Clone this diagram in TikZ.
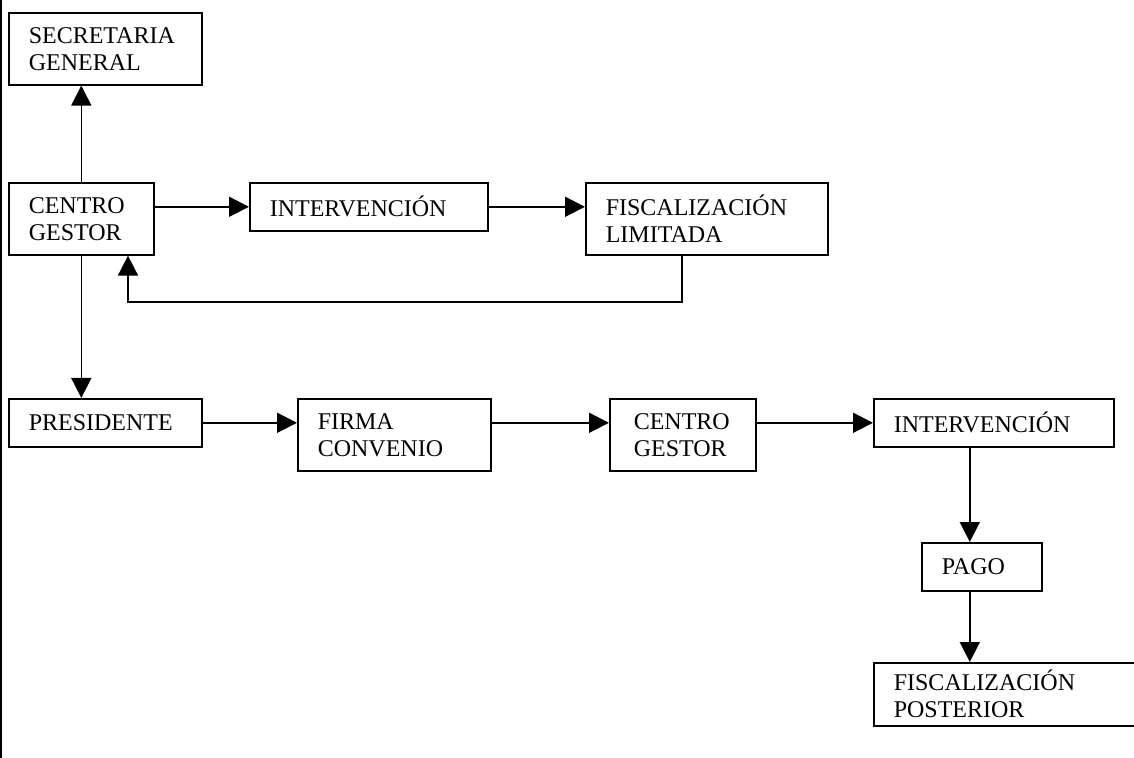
\documentclass[tikz,border=0pt]{standalone}
\usepackage{fontspec}
\setmainfont{Liberation Serif}
\usetikzlibrary{arrows.meta}

\tikzset{
	box/.style={draw, line width=0.8pt, anchor=north west, align=left, inner xsep=10pt, inner ysep=0pt, font=\fontsize{12}{13.5}\selectfont},
	arr/.style={line width=0.8pt, -{Triangle[length=10pt, width=10pt]}}
}

\begin{document}
\begin{tikzpicture}[x=1pt, y=-1pt]
		%page size
		\useasboundingbox (0,0) rectangle (567,379);
		\draw [line width=0.9pt] (0.5,0) -- (0.5,379);
		
		%upper row
		\node [box, text width=76.5pt, minimum height=36pt] (secretaria) at (4,6) {SECRETARIA\\GENERAL};
		\node [box, text width=52.5pt, minimum height=36pt] (gestor) at (4,91) {CENTRO\\GESTOR};
		\node [box, text width=99pt, minimum height=24pt] (intervencion) at (124.5,91) {INTERVENCIÓN};
		\node [box, text width=101pt, minimum height=36pt] (limitada) at (292.5,91) {FISCALIZACIÓN\\LIMITADA};
		
		%lower row
		\node [box, text width=76.5pt, minimum height=24pt] (presidente) at (4,199) {PRESIDENTE};
		\node [box, text width=76.5pt, minimum height=36pt] (convenio) at (148.5,199) {FIRMA\\CONVENIO};
		\node [box, text width=49pt, minimum height=36pt, inner xsep=12pt] (gestor2) at (304.5,199) {CENTRO\\GESTOR};
		\node [box, text width=100pt, minimum height=24pt] (intervencion2) at (436.5,199) {INTERVENCIÓN};
		\node [box, text width=40pt, minimum height=24pt] (pago) at (460.5,271) {PAGO};
		\node [box, text width=120pt, minimum height=31.5pt] (posterior) at (436.5,331) {FISCALIZACIÓN\\POSTERIOR};
		
		\coordinate (back) at (64,151);
		
		%connectors
		\draw [arr] (gestor.north) -- (gestor.north |- secretaria.south);
		\draw [arr] (gestor.east |- intervencion.west) -- (intervencion.west);
		\draw [arr] (intervencion.east) -- (intervencion.east -| limitada.west);
		\draw [arr] ([xshift=-12.5pt]limitada.south) |- (back) -- (back |- gestor.south);
		\draw [arr] (gestor.south) -- (gestor.south |- presidente.north);
		
		\draw [arr] (presidente.east) -- (presidente.east -| convenio.west);
		\draw [arr] (presidente.east -| convenio.east) -- (presidente.east -| gestor2.west);
		\draw [arr] (presidente.east -| gestor2.east) -- (intervencion2.west);
		\draw [arr] ([xshift=-12pt]intervencion2.south) -- ([xshift=-12pt]intervencion2.south |- pago.north);
		\draw [arr] ([xshift=-6pt]pago.south) -- ([xshift=-6pt]pago.south |- posterior.north);
	\end{tikzpicture}
\end{document}
